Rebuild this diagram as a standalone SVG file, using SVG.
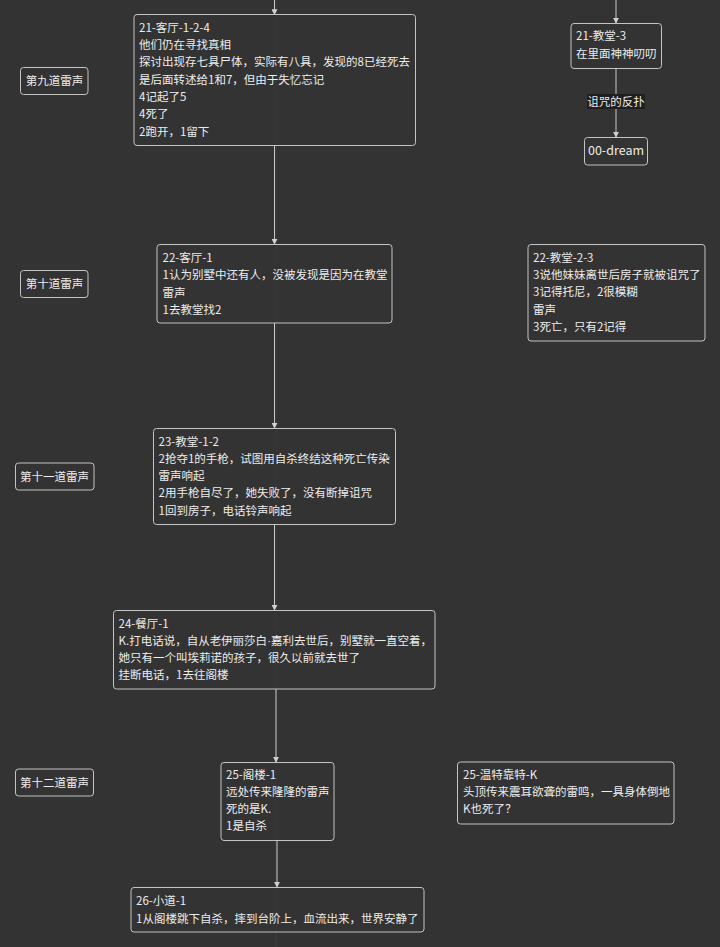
<svg xmlns="http://www.w3.org/2000/svg" width="720" height="947" viewBox="0 0 720 947">
<defs>
<style>
.bg{fill:#333333}
.node rect{fill:#333333;fill-opacity:0.6;stroke:#c4c4c4;stroke-width:1}
.t{font-family:"Noto Sans CJK SC","Microsoft YaHei",sans-serif;font-size:11.5px;fill:#ececec}
.c{text-anchor:middle}
.edge{stroke:#c8c8c8;stroke-width:1;fill:none;marker-end:url(#arr)}
.ruler{stroke:#3e3e3e;stroke-width:1}
</style>
<marker id="arr" viewBox="0 0 8 8" refX="7" refY="4" markerWidth="6" markerHeight="6" markerUnits="userSpaceOnUse" orient="auto">
<path d="M0,0 L8,4 L0,8 Z" fill="#d0d0d0"/>
</marker>
</defs>
<rect class="bg" x="0" y="0" width="720" height="947"/>
<line class="ruler" x1="276" y1="0" x2="276" y2="947"/>

<g id="connectors">
<path class="edge" d="M274.5 0 V14.5"/>
<path class="edge" d="M274.5 145 V244"/>
<path class="edge" d="M274.5 323 V428"/>
<path class="edge" d="M274.5 524 V610"/>
<path class="edge" d="M276 689 V762"/>
<path class="edge" d="M277 840 V887"/>
<path class="edge" d="M616 0 V23"/>
<path class="edge" d="M616 68 V137"/>
<g id="edge-label">
<rect x="587" y="94" width="58" height="15" fill="#1f1f1f"/>
<text class="t c" x="616" y="105.5">诅咒的反扑</text>
</g>
</g>

<g id="thunder9" class="node">
<rect x="20.5" y="67.5" width="67.5" height="27" rx="3"/>
<text class="t c" x="54.5" y="85">第九道雷声</text>
</g>
<g id="thunder10" class="node">
<rect x="20.5" y="270.5" width="67.5" height="27" rx="3"/>
<text class="t c" x="54.5" y="288">第十道雷声</text>
</g>
<g id="thunder11" class="node">
<rect x="15.5" y="463" width="78.5" height="27" rx="3"/>
<text class="t c" x="54.5" y="480.5">第十一道雷声</text>
</g>
<g id="thunder12" class="node">
<rect x="15.5" y="769" width="78" height="27" rx="3"/>
<text class="t c" x="54.5" y="786.5">第十二道雷声</text>
</g>

<g id="n21-livingroom" class="node">
<rect x="134" y="14.5" width="281.5" height="131" rx="3"/>
<text class="t" x="139" y="31.7">21-客厅-1-2-4</text>
<text class="t" x="139" y="49">他们仍在寻找真相</text>
<text class="t" x="139" y="66.3">探讨出现存七具尸体，实际有八具，发现的8已经死去</text>
<text class="t" x="139" y="83.6">是后面转述给1和7，但由于失忆忘记</text>
<text class="t" x="139" y="100.9">4记起了5</text>
<text class="t" x="139" y="118.2">4死了</text>
<text class="t" x="139" y="135.5">2跑开，1留下</text>
</g>

<g id="n21-church" class="node">
<rect x="571" y="23.5" width="90.5" height="45" rx="3"/>
<text class="t" x="576" y="40">21-教堂-3</text>
<text class="t" x="576" y="57.5">在里面神神叨叨</text>
</g>

<g id="n00-dream" class="node">
<rect x="584.5" y="137.5" width="63" height="27.5" rx="3"/>
<text class="t c" x="616" y="155.3" style="font-size:12.5px">00-dream</text>
</g>

<g id="n22-livingroom" class="node">
<rect x="157" y="244.5" width="235" height="78.5" rx="3"/>
<text class="t" x="162.5" y="262">22-客厅-1</text>
<text class="t" x="162.5" y="279.3">1认为别墅中还有人，没被发现是因为在教堂</text>
<text class="t" x="162.5" y="296.6">雷声</text>
<text class="t" x="162.5" y="313.9">1去教堂找2</text>
</g>

<g id="n22-church" class="node">
<rect x="528" y="244.5" width="177" height="96.5" rx="3"/>
<text class="t" x="533" y="261.8">22-教堂-2-3</text>
<text class="t" x="533" y="279.1">3说他妹妹离世后房子就被诅咒了</text>
<text class="t" x="533" y="296.4">3记得托尼，2很模糊</text>
<text class="t" x="533" y="313.7">雷声</text>
<text class="t" x="533" y="331">3死亡，只有2记得</text>
</g>

<g id="n23-church" class="node">
<rect x="153.5" y="428.5" width="242" height="96" rx="3"/>
<text class="t" x="158.5" y="445.5">23-教堂-1-2</text>
<text class="t" x="158.5" y="462.8">2抢夺1的手枪，试图用自杀终结这种死亡传染</text>
<text class="t" x="158.5" y="480.1">雷声响起</text>
<text class="t" x="158.5" y="497.4">2用手枪自尽了，她失败了，没有断掉诅咒</text>
<text class="t" x="158.5" y="514.7">1回到房子，电话铃声响起</text>
</g>

<g id="n24-dining" class="node">
<rect x="113.5" y="610.5" width="321.5" height="78.5" rx="3"/>
<text class="t" x="118.5" y="627.5">24-餐厅-1</text>
<text class="t" x="118.5" y="644.8">K.打电话说，自从老伊丽莎白<tspan style="font-family:'Liberation Sans',sans-serif">·</tspan>嘉利去世后，别墅就一直空着，</text>
<text class="t" x="118.5" y="662.1">她只有一个叫埃莉诺的孩子，很久以前就去世了</text>
<text class="t" x="118.5" y="679.4">挂断电话，1去往阁楼</text>
</g>

<g id="n25-attic" class="node">
<rect x="221" y="762.5" width="113" height="78" rx="3"/>
<text class="t" x="226" y="778.5">25-阁楼-1</text>
<text class="t" x="226" y="795.8">远处传来隆隆的雷声</text>
<text class="t" x="226" y="813.1">死的是K.</text>
<text class="t" x="226" y="830.4">1是自杀</text>
</g>

<g id="n25-winter" class="node">
<rect x="457.5" y="762" width="216.5" height="62" rx="3"/>
<text class="t" x="463" y="778.5">25-温特靠特-K</text>
<text class="t" x="463" y="795.8">头顶传来震耳欲聋的雷鸣，一具身体倒地</text>
<text class="t" x="463" y="813.1">K也死了？</text>
</g>

<g id="n26-path" class="node">
<rect x="131" y="887.5" width="293" height="44.5" rx="3"/>
<text class="t" x="136" y="905">26-小道-1</text>
<text class="t" x="136" y="922.5">1从阁楼跳下自杀，摔到台阶上，血流出来，世界安静了</text>
</g>
</svg>
